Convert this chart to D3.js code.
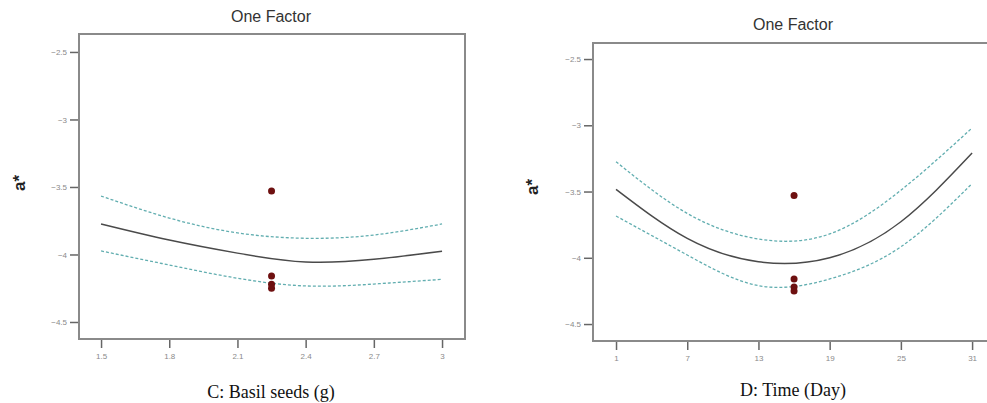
<!DOCTYPE html>
<html>
<head>
<meta charset="utf-8">
<script src="https://cdn.jsdelivr.net/npm/d3@7"></script>
<style>
  body { margin: 0; background: #fff; }
  svg { display: block; }
</style>
</head>
<body>
<svg id="chart" width="987" height="403"></svg>
<script>
// ---- data ----
// left panel: C: Basil seeds (g)
const basilX     = [1.5, 1.8, 2.1, 2.4, 2.7, 3.0];
const basilPred  = [-3.774, -3.893, -3.99, -4.056, -4.036, -3.976];
const basilUpper = [-3.567, -3.73, -3.84, -3.88, -3.856, -3.774];
const basilLower = [-3.974, -4.078, -4.176, -4.233, -4.219, -4.184];
const basilPtsX  = [2.25, 2.25, 2.25, 2.25];
const basilPtsY  = [-3.53, -4.16, -4.22, -4.25];
const basilTicks = [1.5, 1.8, 2.1, 2.4, 2.7, 3];

// right panel: D: Time (Day)
const dayX     = [1, 7, 13, 19, 25, 31];
const dayPred  = [-3.483, -3.853, -4.03, -4.0, -3.728, -3.21];
const dayUpper = [-3.275, -3.665, -3.858, -3.82, -3.49, -3.02];
const dayLower = [-3.685, -3.979, -4.21, -4.16, -3.917, -3.44];
const dayPtsX  = [16, 16, 16, 16];
const dayPtsY  = [-3.53, -4.16, -4.22, -4.25];
const dayTicks = [1, 7, 13, 19, 25, 31];

const yTicks = [-2.5, -3, -3.5, -4, -4.5];

const svg = d3.select('#chart');

const panels = [
  {
    title: 'One Factor', xTitle: 'C: Basil seeds (g)',
    box: {left: 79, right: 465, top: 34, bottom: 339},
    xDomain: [1.403, 3.101], yDomain: [-4.626, -2.367],
    xs: basilX, pred: basilPred, upper: basilUpper, lower: basilLower,
    ptsX: basilPtsX, ptsY: basilPtsY, xTicks: basilTicks,
    titleX: 271, titleY: 22, xTitleY: 398, yLabelX: 25, yLabelY: 183
  },
  {
    title: 'One Factor', xTitle: 'D: Time (Day)',
    box: {left: 593, right: 995, top: 43, bottom: 341},
    xDomain: [-0.94, 32.93], yDomain: [-4.628, -2.379],
    xs: dayX, pred: dayPred, upper: dayUpper, lower: dayLower,
    ptsX: dayPtsX, ptsY: dayPtsY, xTicks: dayTicks,
    titleX: 793, titleY: 30, xTitleY: 396, yLabelX: 538, yLabelY: 187
  }
];

panels.forEach(drawPanel);

function drawPanel(p) {
  const b = p.box;
  const x = d3.scaleLinear().domain(p.xDomain).range([b.left, b.right]);
  const y = d3.scaleLinear().domain(p.yDomain).range([b.bottom, b.top]);
  const g = svg.append('g');

  // frame
  g.append('rect')
    .attr('x', b.left).attr('y', b.top)
    .attr('width', b.right - b.left).attr('height', b.bottom - b.top)
    .attr('fill', 'none').attr('stroke', '#8a8a8a').attr('stroke-width', 2);

  // axes
  const yAxis = g.append('g')
    .attr('transform', `translate(${b.left - 1},0)`)
    .call(d3.axisLeft(y).tickValues(yTicks).tickSize(8).tickPadding(3).tickFormat(d3.format('')));
  const xAxis = g.append('g')
    .attr('transform', `translate(0,${b.bottom + 1})`)
    .call(d3.axisBottom(x).tickValues(p.xTicks).tickSize(8).tickPadding(5).tickFormat(d3.format('')));
  [yAxis, xAxis].forEach(a => {
    a.select('.domain').remove();
    a.selectAll('line').attr('stroke', '#666').attr('stroke-width', 1.5);
    a.selectAll('text').attr('fill', '#8a8a8a').style('font-family', 'Arial, sans-serif').style('font-size', '8px');
  });

  const line = d3.line().x((d, i) => x(p.xs[i])).y(d => y(d)).curve(d3.curveNatural);

  // confidence bands
  [p.upper, p.lower].forEach(band => {
    g.append('path')
      .attr('d', line(band))
      .attr('fill', 'none')
      .attr('stroke', '#62aeb0')
      .attr('stroke-width', 1.3)
      .attr('stroke-dasharray', '3,2');
  });

  // predicted
  g.append('path')
    .attr('d', line(p.pred))
    .attr('fill', 'none')
    .attr('stroke', '#4a4a4a')
    .attr('stroke-width', 1.5);

  // design points
  g.selectAll('circle.pt')
    .data(p.ptsY)
    .enter().append('circle')
      .attr('class', 'pt')
      .attr('cx', (d, i) => x(p.ptsX[i]))
      .attr('cy', d => y(d))
      .attr('r', 3.5)
      .attr('fill', '#6e1010');

  // titles
  g.append('text')
    .attr('x', p.titleX).attr('y', p.titleY)
    .attr('text-anchor', 'middle')
    .style('font-family', 'Arial, sans-serif').style('font-size', '16px')
    .attr('fill', '#333')
    .text(p.title);

  g.append('text')
    .attr('x', p.titleX).attr('y', p.xTitleY)
    .attr('text-anchor', 'middle')
    .style('font-family', '"Liberation Serif", "Times New Roman", serif').style('font-size', '18px')
    .attr('fill', '#111')
    .text(p.xTitle);

  g.append('text')
    .attr('transform', `translate(${p.yLabelX},${p.yLabelY}) rotate(-90)`)
    .attr('text-anchor', 'middle')
    .style('font-family', 'Arial, sans-serif').style('font-size', '17px')
    .style('font-weight', 'bold')
    .attr('fill', '#222')
    .text('a*');
}
</script>
</body>
</html>
